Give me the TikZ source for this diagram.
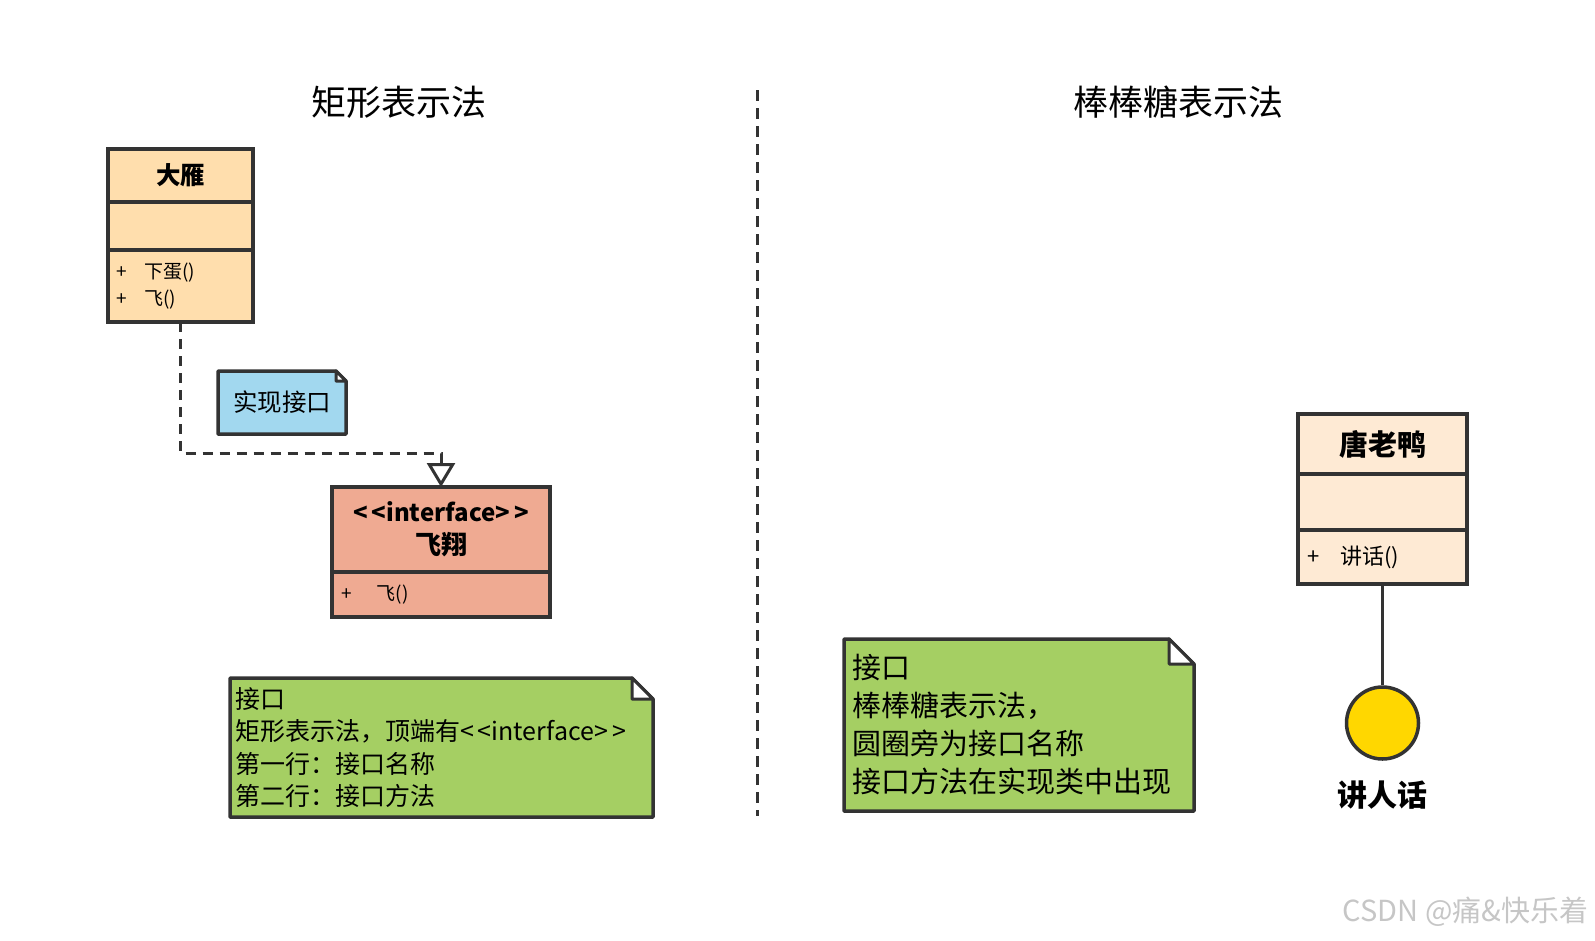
\documentclass[tikz,border=0pt]{standalone}
\usepackage{fontspec}
\setmainfont{Noto Sans CJK SC}
\usetikzlibrary{arrows.meta,calc}
\pgfdeclarelayer{background}
\pgfsetlayers{background,main}
\definecolor{ink}{HTML}{333333}
\definecolor{dyfill}{HTML}{FFDEAD}
\definecolor{tlfill}{HTML}{FEEAD4}
\definecolor{iffill}{HTML}{EFAA92}
\definecolor{bluefill}{HTML}{A2D8EF}
\definecolor{greenfill}{HTML}{A5CF63}
\definecolor{lolli}{HTML}{FFD700}
\newcommand{\fs}[2]{\fontsize{#1}{#2}\selectfont}
\newcommand{\ifacetxt}{<\hspace{4pt}<interface>\hspace{4pt}>}
\newcommand{\notebg}[3]{%
  \begin{pgfonlayer}{background}
    \draw[ink, line width=3.5pt, fill=#3, line join=round]
      (#1.north west) -- ($(#1.north east)+(-#2,0)$) -- ($(#1.north east)+(0,#2)$)
      -- (#1.south east) -- (#1.south west) -- cycle;
    \draw[ink, line width=3pt, fill=white, line join=round]
      ($(#1.north east)+(-#2,0)$) -- ($(#1.north east)+(-#2,#2)$) -- ($(#1.north east)+(0,#2)$) -- cycle;
  \end{pgfonlayer}}
\begin{document}
\begin{tikzpicture}[x=1pt,y=-1pt,
  comp/.style={draw=ink, line width=3.5pt, anchor=north west, inner sep=0pt, outer sep=0pt, minimum width=#1},
  opsbox/.style={align=left, inner xsep=8pt, text width=#1},
  notebox/.style={anchor=north west, inner sep=0pt, outer sep=0pt},
  title/.style={font=\fs{35}{40}},
  sepline/.style={ink, line width=3pt, dash pattern=on 11pt off 7pt}]
\useasboundingbox (0,0) rectangle (1595,940);

% titles
\node[title] (t-left) at (399,102) {矩形表示法};
\node[title] (t-right) at (1178,102) {棒棒糖表示法};

% separator
\coordinate (sep-top) at (757,90);
\coordinate (sep-bot) at (757,816);
\draw[sepline] (sep-top) -- (sep-bot);

% class 大雁
\node[comp=145pt, fill=dyfill, minimum height=53pt, font=\bfseries\fs{24.5}{28}] (dy-name) at (108,149) {大雁};
\node[comp=145pt, fill=dyfill, minimum height=48pt] (dy-attr) at (dy-name.south west) {};
\node[comp=145pt, fill=dyfill, minimum height=72pt, opsbox=128pt, font=\fs{19}{27}] (dy-ops) at (dy-attr.south west)
  {\makebox[28pt][l]{+}下蛋()\\\makebox[28pt][l]{+}飞()};

% interface 飞翔
\node[comp=218pt, fill=iffill, minimum height=85pt, align=center, font=\bfseries\fs{24}{33}] (fx-name) at (332,487)
  {\ifacetxt\\{\fs{26}{33}飞翔}};
\node[comp=218pt, fill=iffill, minimum height=45pt, opsbox=200pt, font=\fs{19}{24}] (fx-ops) at (fx-name.south west)
  {\makebox[36pt][l]{+}飞()};

% realization
\draw[ink, line width=3pt, dash pattern=on 10pt off 7pt,
  -{Triangle[length=24pt, width=28pt, fill=white, line width=3pt]}]
  (dy-ops.south) -- (dy-ops.south |- 0,453) -| (fx-name.north);

% note 实现接口
\node[notebox, minimum width=128pt, minimum height=63pt, font=\fs{24.5}{28}] (n-impl) at (218,371) {实现接口};
\notebg{n-impl}{10}{bluefill}

% note left
\node[notebox, minimum width=423pt, minimum height=139pt, inner xsep=5pt, text width=413pt, align=left, font=\fs{25}{32.5}] (n-left) at (230,678)
  {接口\\矩形表示法，顶端有\ifacetxt\\第一行：接口名称\\第二行：接口方法};
\notebg{n-left}{21}{greenfill}

% class 唐老鸭
\node[comp=169pt, fill=tlfill, minimum height=60pt, font=\bfseries\fs{29}{32}] (tl-name) at (1298,414) {唐老鸭};
\node[comp=169pt, fill=tlfill, minimum height=56pt] (tl-attr) at (tl-name.south west) {};
\node[comp=169pt, fill=tlfill, minimum height=54pt, opsbox=150pt, font=\fs{22}{26}] (tl-ops) at (tl-attr.south west)
  {\makebox[33pt][l]{+}讲话()};

% lollipop
\node[circle, draw=ink, line width=3.5pt, fill=lolli, minimum size=72pt, inner sep=0pt] (tl-iface) at (1382.5,723) {};
\draw[ink, line width=3.5pt] (tl-ops.south) -- (tl-iface.north);
\node[font=\bfseries\fs{30}{34}] (tl-label) at (1382,795) {讲人话};

% note right
\node[notebox, minimum width=350pt, minimum height=172pt, inner xsep=8pt, text width=334pt, align=left, font=\fs{29}{38}] (n-right) at (844,639)
  {接口\\棒棒糖表示法，\\圆圈旁为接口名称\\接口方法在实现类中出现};
\notebg{n-right}{25}{greenfill}

% watermark
\node[anchor=east, text=gray!45, font=\fs{29}{32}] (wm) at (1592,912) {CSDN @痛\&快乐着};
\end{tikzpicture}
\end{document}
